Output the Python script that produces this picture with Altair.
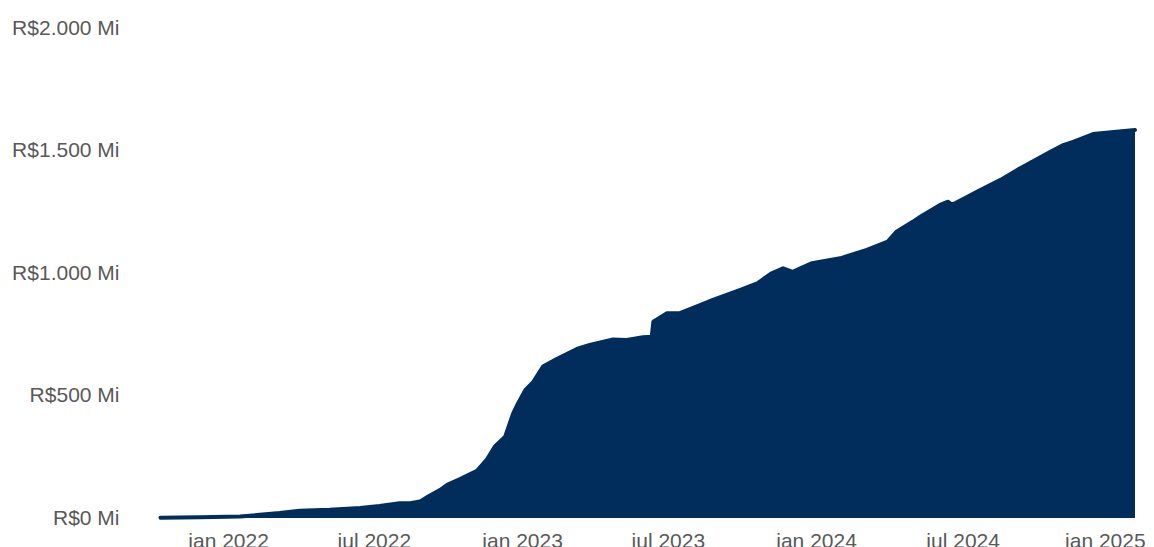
import altair as alt
import pandas as pd

dates = [
    "2021-10-09", "2021-11-27", "2022-01-16", "2022-03-06", "2022-03-31",
    "2022-05-07", "2022-06-14", "2022-07-08", "2022-08-02", "2022-08-15",
    "2022-08-27", "2022-09-06", "2022-09-21", "2022-09-30", "2022-10-16",
    "2022-11-06", "2022-11-18", "2022-11-28", "2022-12-11", "2022-12-21",
    "2022-12-27", "2023-01-05", "2023-01-15", "2023-01-27", "2023-02-13",
    "2023-03-10", "2023-03-26", "2023-04-24", "2023-05-11", "2023-05-31",
    "2023-06-11", "2023-06-13", "2023-06-30", "2023-07-16", "2023-08-10",
    "2023-08-26", "2023-09-29", "2023-10-20", "2023-11-07", "2023-11-21",
    "2023-12-03", "2023-12-27", "2024-01-31", "2024-03-04", "2024-03-30",
    "2024-04-10", "2024-04-30", "2024-05-11", "2024-06-03", "2024-06-13",
    "2024-06-18", "2024-07-23", "2024-08-17", "2024-09-10", "2024-10-18",
    "2024-11-03", "2024-11-16", "2024-12-10", "2025-01-08", "2025-01-31",
]
values_mi = [
    1, 3, 6, 20, 30,
    34, 41, 49, 60, 60,
    67, 87, 114, 135, 159,
    193, 237, 291, 332, 427,
    468, 522, 556, 618, 649,
    690, 706, 729, 727, 738,
    740, 801, 836, 836, 869,
    890, 931, 958, 999, 1019,
    1005, 1040, 1060, 1094, 1128,
    1169, 1209, 1233, 1278, 1291,
    1278, 1339, 1380, 1427, 1495,
    1522, 1536, 1567, 1577, 1584,
]
y_ticks = [0, 500, 1000, 1500, 2000]

df = pd.DataFrame({"data": dates, "valor": values_mi})

NAVY = "#002D5B"
GRAY = "#595959"
FONT = "Liberation Sans"

x_enc = alt.X(
    "data:T",
    scale=alt.Scale(domain=[alt.DateTime(year=2021, month=8, date=26),
                            alt.DateTime(year=2025, month=1, date=31)], nice=False),
    axis=alt.Axis(
        title=None, grid=False, domain=False, ticks=False,
        values=[alt.DateTime(year=yr, month=m, date=1)
                for yr in [2022, 2023, 2024, 2025] for m in [1, 7]
                if not (yr == 2025 and m == 7)],
        labelExpr="(month(datum.value) == 0 ? 'jan' : 'jul') + ' ' + year(datum.value)",
        labelFontSize=21, labelFont=FONT, labelColor=GRAY, labelPadding=12,
        labelOverlap=False,
        labelOffset={"condition": {"test": "year(datum.value) == 2025", "value": -6},
                     "value": 0},
    ),
)
y_enc = alt.Y(
    "valor:Q",
    scale=alt.Scale(domain=[0, 2000], nice=False),
    axis=alt.Axis(
        title=None, grid=False, domain=False, ticks=False, values=y_ticks,
        labelExpr="'R$' + replace(format(datum.value, ',.0f'), ',', '.') + ' Mi'",
        labelFontSize=21, labelFont=FONT, labelColor=GRAY, labelPadding=6,
    ),
)

area = alt.Chart(df).mark_area(color=NAVY, opacity=1).encode(x=x_enc, y=y_enc)
line = alt.Chart(df).mark_line(color=NAVY, strokeWidth=4, strokeCap="round",
                               strokeJoin="round").encode(x=x_enc, y=y_enc)

chart = (area + line).properties(
    width=1010, height=490,
    autosize=alt.AutoSizeParams(type="none"),
    padding={"left": 117, "top": 20, "right": 11, "bottom": 40},
).configure_view(stroke=None)

chart.save("out.html", embed_options={"renderer": "svg", "actions": False})
